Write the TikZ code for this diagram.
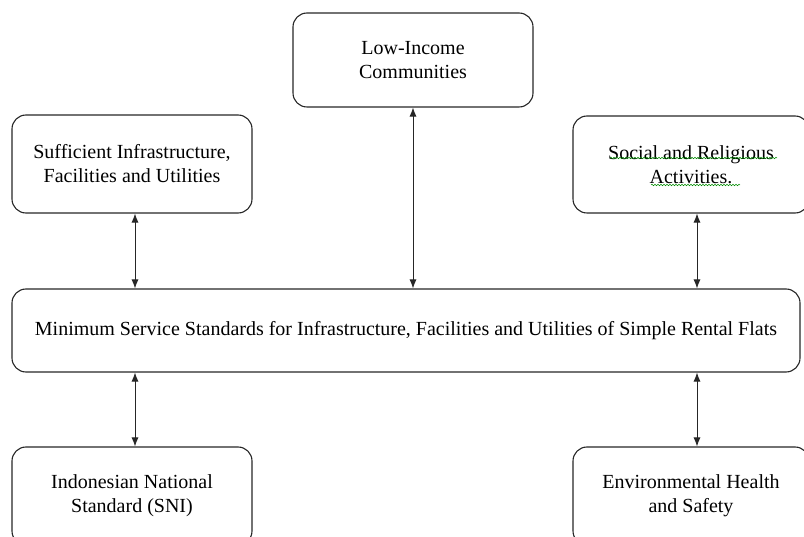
\documentclass[tikz,border=0pt]{standalone}
\usepackage{fontspec}
\setmainfont{Liberation Serif}
\usetikzlibrary{arrows.meta,calc,decorations.pathmorphing}

\begin{document}
\begin{tikzpicture}[x=1pt,y=-1pt,
    box/.style={draw=black!85, rounded corners=14pt, line width=1.1pt, align=center,
        font=\fontsize{20}{24}\selectfont, inner sep=0pt},
    link/.style={{Latex[length=9pt,width=7pt]}-{Latex[length=9pt,width=7pt]}, line width=0.9pt, black!85},
    squiggle/.style={green!55!black, line width=0.5pt, decorate,
        decoration={snake, amplitude=0.8pt, segment length=3pt}}]
    \useasboundingbox (0,0) rectangle (804,537);
    \clip (0,0) rectangle (804,537);

    % Draw the boxes
    \node[box, minimum width=240pt, minimum height=94pt] (lic) at (413,60) {Low-Income\\Communities};
    \node[box, minimum width=240pt, minimum height=98pt] (sif) at (132,164) {Sufficient Infrastructure,\\Facilities and Utilities};
    \node[box, minimum width=236pt, minimum height=97pt] (sra) at (691,164.5) {Social and Religious\\Activities.};
    \node[box, minimum width=788pt, minimum height=83pt] (mss) at (406,330.5) {Minimum Service Standards for Infrastructure, Facilities and Utilities of Simple Rental Flats};
    \node[box, minimum width=240pt, minimum height=98pt] (sni) at (132,496) {Indonesian National\\Standard (SNI)};
    \node[box, minimum width=236pt, minimum height=98pt] (ehs) at (691,496) {Environmental Health\\and Safety};

    % Spell-check underline
    \draw[squiggle] ($(sra.center)+(-81,-6.5)$) -- ($(sra.center)+(86,-6.5)$);
    \draw[squiggle] ($(sra.center)+(-40,20.5)$) -- ($(sra.center)+(49,20.5)$);

    % Connect them to the standards box
    \draw[link] ([xshift=3pt]sif.south) -- ([xshift=3pt]sif.south |- mss.north);
    \draw[link] (lic.south) -- (lic.south |- mss.north);
    \draw[link] ([xshift=6pt]sra.south) -- ([xshift=6pt]sra.south |- mss.north);
    \draw[link] ([xshift=3pt]sni.north) -- ([xshift=3pt]sni.north |- mss.south);
    \draw[link] ([xshift=6pt]ehs.north) -- ([xshift=6pt]ehs.north |- mss.south);
\end{tikzpicture}
\end{document}
